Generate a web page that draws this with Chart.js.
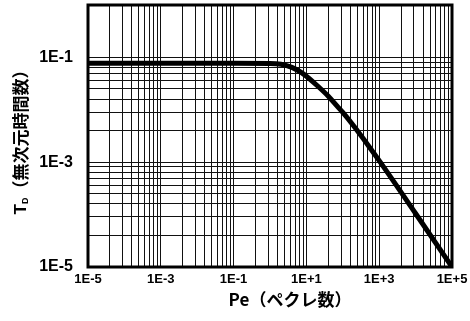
<!DOCTYPE html>
<html>
<head>
<meta charset="utf-8">
<script src="https://cdn.jsdelivr.net/npm/chart.js@4.4.0/dist/chart.umd.min.js"></script>
<style>
  html, body { margin: 0; padding: 0; background: #fff; }
  #wrap { width: 470px; height: 321px; position: relative; }
</style>
</head>
<body>
<div id="wrap"><canvas id="tdChart"></canvas></div>
<script>
// Pe (ペクレ数) vs T_D (無次元時間数)
const peValues = [1e-5, 1e-3, 1e-1, 1, 2, 4, 7, 10, 20, 40, 70, 100, 200, 500, 1000, 10000, 100000];
const tdValues = [0.077, 0.077, 0.077, 0.0769, 0.0741, 0.0646, 0.0525, 0.0437, 0.0288, 0.0182, 0.01175, 0.00891, 0.0049, 0.00209, 0.00107, 0.000105, 0.00001];

// axis labels (one log "cycle" on the paper = 2 decades)
const xLabelValues = [1e-5, 1e-3, 1e-1, 1e1, 1e3, 1e5];
const xTickLabels = ['1E-5', '1E-3', '1E-1', '1E+1', '1E+3', '1E+5'];
const yLabelValues = [1e-5, 1e-3, 1e-1];
const yTickLabels = ['1E-5', '1E-3', '1E-1'];
const cycleSteps = [1, 2, 3, 4, 5, 6, 7, 8, 9];

const xTitle = 'Pe（ペクレ数）';
const yTitleMain = 'T';
const yTitleSub = 'D';
const yTitleRest = '（無次元時間数）';

function gridValues(labelValues, fullCycles) {
  const vals = [];
  labelValues.forEach(function(v, i) {
    if (i < fullCycles) {
      cycleSteps.forEach(function(k) { vals.push(v * k * k); });
    } else {
      vals.push(v);
    }
  });
  return vals;
}

function labelFor(values, labels, v) {
  for (let i = 0; i < values.length; i++) {
    if (Math.abs(Math.log10(v) - Math.log10(values[i])) < 1e-6) return labels[i];
  }
  return '';
}

const frame = {
  id: 'frame',
  afterDraw: function(chart) {
    const a = chart.chartArea;
    const ctx = chart.ctx;
    ctx.save();
    ctx.strokeStyle = '#000';
    ctx.lineWidth = 3;
    ctx.strokeRect(a.left, a.top, a.right - a.left, a.bottom - a.top);

    // x title
    ctx.fillStyle = '#000';
    ctx.textBaseline = 'middle';
    ctx.textAlign = 'center';
    ctx.font = 'bold 17px "Noto Sans CJK JP", sans-serif';
    ctx.fillText(xTitle, 290, 300);

    // y title with subscript D
    ctx.translate(21, (a.top + a.bottom) / 2 + 2);
    ctx.rotate(-Math.PI / 2);
    ctx.textAlign = 'left';
    const fMain = 'bold 17px "Liberation Sans", Arial, sans-serif';
    const fSub = 'bold 9px "Liberation Sans", Arial, sans-serif';
    const fRest = 'bold 17px "Noto Sans CJK JP", sans-serif';
    ctx.font = fMain; const w1 = ctx.measureText(yTitleMain).width;
    ctx.font = fSub; const w2 = ctx.measureText(yTitleSub).width;
    ctx.font = fRest; const w3 = ctx.measureText(yTitleRest).width;
    let x = -(w1 + w2 + w3) / 2;
    ctx.font = fMain; ctx.fillText(yTitleMain, x, 0); x += w1;
    ctx.font = fSub; ctx.fillText(yTitleSub, x, 5); x += w2;
    ctx.font = fRest; ctx.fillText(yTitleRest, x, 0);
    ctx.restore();
  }
};

const ctx = document.getElementById('tdChart').getContext('2d');
const chart = new Chart(ctx, {
  type: 'line',
  data: {
    datasets: [{
      data: peValues.map(function(p, i) { return { x: p, y: tdValues[i] }; }),
      borderColor: '#000',
      borderWidth: 5,
      pointRadius: 0,
      cubicInterpolationMode: 'monotone',
      fill: false
    }]
  },
  options: {
    responsive: true,
    maintainAspectRatio: false,
    animation: false,
    layout: { padding: { top: 5, right: 18, left: 0, bottom: 0 } },
    plugins: {
      legend: { display: false },
      tooltip: { enabled: false }
    },
    scales: {
      x: {
        type: 'logarithmic',
        min: 1e-5,
        max: 1e5,
        afterBuildTicks: function(scale) {
          scale.ticks = gridValues(xLabelValues, 5).map(function(v) { return { value: v }; });
        },
        afterFit: function(scale) {
          scale.height = 54;
          scale.paddingLeft = 0;
          scale.paddingRight = 0;
        },
        grid: { color: '#111', lineWidth: 1, drawTicks: false },
        border: { display: false },
        ticks: {
          autoSkip: false,
          maxRotation: 0,
          padding: 5,
          color: '#000',
          font: { family: '"Liberation Sans", Arial, sans-serif', size: 13, weight: 'bold' },
          callback: function(v) { return labelFor(xLabelValues, xTickLabels, v); }
        },
        title: { display: false }
      },
      y: {
        type: 'logarithmic',
        min: 1e-5,
        max: 1,
        afterBuildTicks: function(scale) {
          scale.ticks = gridValues(yLabelValues, 2).map(function(v) { return { value: v }; });
        },
        afterFit: function(scale) {
          scale.width = 88;
          scale.paddingTop = 0;
          scale.paddingBottom = 0;
        },
        grid: { color: '#111', lineWidth: 1, drawTicks: false },
        border: { display: false },
        ticks: {
          autoSkip: false,
          padding: 15,
          color: '#000',
          font: { family: '"Liberation Sans", Arial, sans-serif', size: 16, weight: 'bold' },
          callback: function(v) { return labelFor(yLabelValues, yTickLabels, v); }
        }
      }
    }
  },
  plugins: [frame]
});
</script>
</body>
</html>
